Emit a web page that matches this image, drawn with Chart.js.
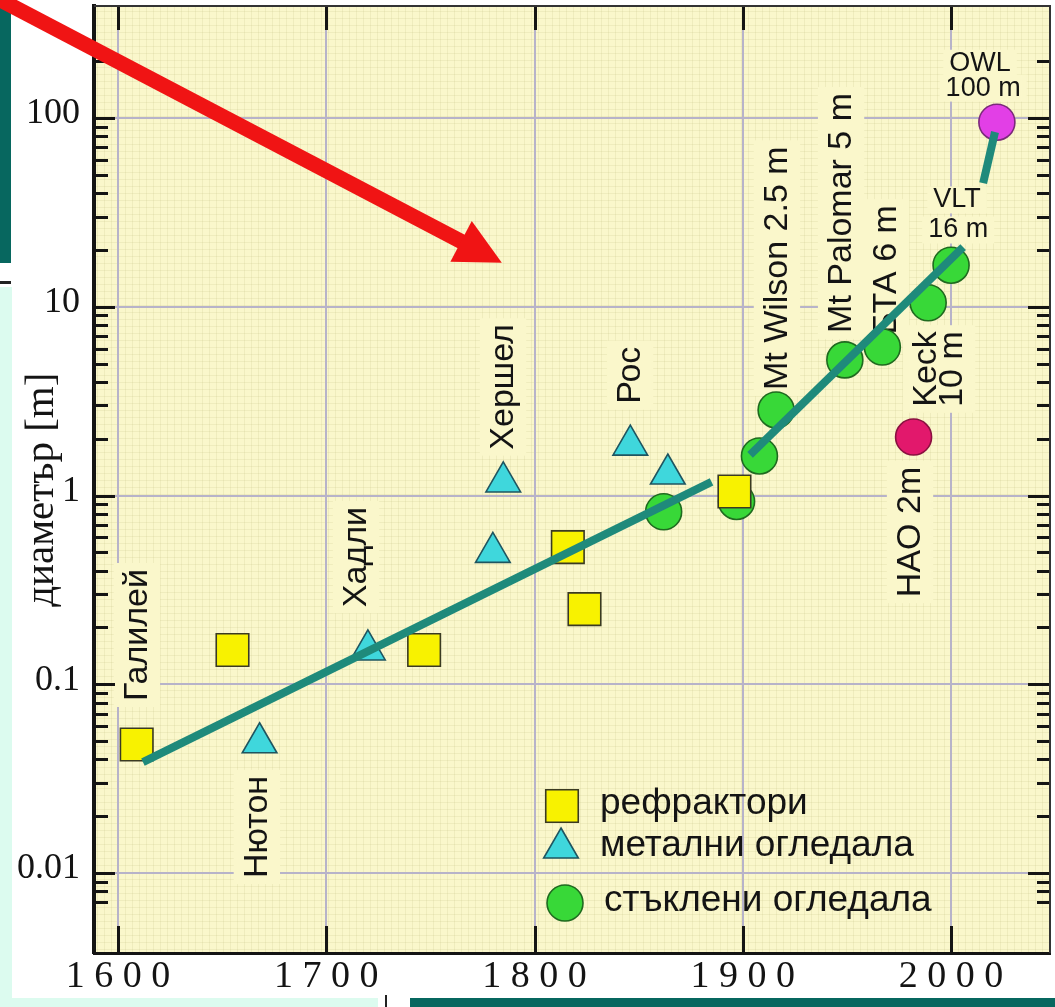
<!DOCTYPE html>
<html lang="bg">
<head>
<meta charset="utf-8">
<title>Диаметър на телескопите</title>
<script src="https://cdn.jsdelivr.net/npm/chart.js@4.4.1/dist/chart.umd.min.js"></script>
<style>
  html, body { margin: 0; padding: 0; background: #fff; }
  #wrap { position: relative; width: 1055px; height: 1007px; overflow: hidden; }
  .deco { position: absolute; }
  #telescope-chart { position: absolute; left: 0; top: 0; }
</style>
</head>
<body>
<div id="wrap">
  <div class="deco" style="left:0;top:0;width:11px;height:263px;background:#07675f"></div>
  <div class="deco" style="left:0;top:281px;width:11px;height:3px;background:#222"></div>
  <div class="deco" style="left:0;top:287px;width:12px;height:720px;background:#dcfbef"></div>
  <div class="deco" style="left:0;top:998px;width:378px;height:9px;background:#dcfbef"></div>
  <div class="deco" style="left:385px;top:995px;width:2px;height:12px;background:#222"></div>
  <div class="deco" style="left:410px;top:998px;width:645px;height:9px;background:#07675f"></div>
  <canvas id="telescope-chart" width="1055" height="1007"></canvas>
</div>
<script>
/* --- axis ranges and ticks --- */
const X_MIN = 1588.5, X_MAX = 2047.5;
const Y_MIN = 0.00377, Y_MAX = 392;
const xTicks = [1600, 1700, 1800, 1900, 2000];
const yTicks = [0.01, 0.1, 1, 10, 100];
const yTickLabels = ['0.01', '0.1', '1', '10', '100'];

/* --- data: year, diameter in metres --- */
const refractorYears = [1609, 1655, 1747, 1816, 1824, 1896];
const refractorDiam  = [0.048, 0.152, 0.152, 0.533, 0.25, 1.05];

const metalYears = [1668, 1720, 1780, 1785, 1846, 1864];
const metalDiam  = [0.049, 0.152, 0.50, 1.18, 1.85, 1.30];

const glassYears = [1862, 1897, 1908, 1916, 1949, 1967, 1989, 2000];
const glassDiam  = [0.82, 0.93, 1.62, 2.84, 5.23, 6.12, 10.5, 16.6];

const owlYears = [2022];
const owlDiam  = [95];
const haoYears = [1982];
const haoDiam  = [2.04];

// hand-drawn trend segments
const trendEarlyYears = [1612, 1885];
const trendEarlyDiam  = [0.0387, 1.18];
const trendGlassYears = [1903.5, 2005.8];
const trendGlassDiam  = [1.64, 20.7];
const trendFutureYears = [2015.4, 2021.1];
const trendFutureDiam  = [45.2, 84.3];

// names written next to the points (year / diameter of the text anchor)
const noteTexts = ['Галилей', 'Нютон', 'Хадли', 'Хершел', 'Рос', 'Mt Wilson 2.5 m', 'Mt Palomar 5 m',
                   'БТА 6 m', 'Keck', '10 m', 'HAO 2m', 'OWL', '100 m', 'VLT', '16 m'];
const noteYears = [1613.9, 1671.5, 1719.1, 1789.7, 1850.7, 1921.2, 1952, 1973.6, 1992.8, 2005.3, 1985.1,
                   2013.9, 2015.4, 2002.9, 2003.4];
const noteDiam  = [0.1824, 0.01754, 0.472, 3.76, 4.34, 16.0, 31.4, 15.7, 4.68, 4.68, 0.641,
                   195, 144, 36.8, 25.5];
const noteVertical = [true, true, true, true, true, true, true, true, true, true, true,
                      false, false, false, false];

// red arrow, from outside the plot to its tip
const arrowYears = [1541, 1784.3];
const arrowDiam  = [437, 17.1];

const PLOT_BG = '#faf7cb';
const GRID = '#b7b3c9';
const INK = '#141414';
const TEAL = '#1f8a7b';
const SANS = '"Liberation Sans", Arial, sans-serif';
const SERIF = '"Liberation Serif", "Times New Roman", serif';

const toPoints = (xs, ys) => xs.map((x, i) => ({ x, y: ys[i] }));

const trendLine = (xs, ys) => ({
    data: toPoints(xs, ys), showLine: true, pointRadius: 0, borderColor: TEAL,
    borderWidth: 8, borderCapStyle: 'butt', order: -1, legend: false
});

const marker = (label, xs, ys, style, radius, fill, stroke, inLegend) => ({
    label, data: toPoints(xs, ys), pointStyle: style, pointRadius: radius, pointHoverRadius: radius,
    backgroundColor: fill, borderColor: stroke, pointBorderWidth: 1.6, showLine: false, legend: inLegend
});

const plotBackground = {
    id: 'plotBackground',
    beforeDraw(chart) {
        const { ctx, chartArea: a } = chart;
        ctx.save();
        ctx.fillStyle = PLOT_BG;
        ctx.fillRect(a.left, a.top, a.width, a.height);
        // faint graph paper
        ctx.strokeStyle = 'rgba(185, 178, 120, 0.16)';
        ctx.lineWidth = 1;
        ctx.beginPath();
        for (let x = a.left + 3.5; x < a.right; x += 7) { ctx.moveTo(x, a.top); ctx.lineTo(x, a.bottom); }
        for (let y = a.bottom - 3.5; y > a.top; y -= 7) { ctx.moveTo(a.left, y); ctx.lineTo(a.right, y); }
        ctx.stroke();
        ctx.restore();
    }
};

function minorTickValues() {
    const vals = [];
    for (let e = -3; e <= 2; e++) {
        for (let k = 2; k <= 9; k++) {
            const v = k * Math.pow(10, e);
            if (v >= 0.007 && v <= 200) vals.push(v);
        }
    }
    return vals;
}

const notesAndTicks = {
    id: 'notesAndTicks',
    beforeDatasetsDraw(chart) {
        const { ctx, chartArea: a, scales: { x, y } } = chart;
        ctx.save();

        const notes = noteTexts.map((text, i) => {
            const size = noteVertical[i] ? 34 : 27;
            ctx.font = `${size}px ${SANS}`;
            return { text, size, vertical: noteVertical[i], w: ctx.measureText(text).width,
                     px: x.getPixelForValue(noteYears[i]), py: y.getPixelForValue(noteDiam[i]) };
        });

        // patches behind the names first, so no patch hides a neighbour
        ctx.fillStyle = PLOT_BG;
        notes.forEach(n => {
            ctx.save();
            ctx.translate(n.px, n.py);
            if (n.vertical) {
                ctx.rotate(-Math.PI / 2);
                ctx.fillRect(-n.w / 2 - 6, -n.size * 0.74 - 8, n.w + 12, n.size * 0.95 + 14);
            } else {
                ctx.fillRect(-n.w / 2 - 6, -n.size * 0.5, n.w + 12, n.size);
            }
            ctx.restore();
        });

        ctx.fillStyle = INK;
        notes.forEach(n => {
            ctx.save();
            ctx.font = `${n.size}px ${SANS}`;
            ctx.textAlign = 'center';
            ctx.translate(n.px, n.py);
            if (n.vertical) {
                ctx.rotate(-Math.PI / 2);
                ctx.textBaseline = 'alphabetic';
            } else {
                ctx.textBaseline = 'middle';
            }
            ctx.fillText(n.text, 0, 0);
            ctx.restore();
        });

        // tick marks point into the plot on all four sides
        ctx.strokeStyle = INK;
        ctx.lineWidth = 3;
        ctx.beginPath();
        const tick = (v, left, right) => {
            const py = Math.round(y.getPixelForValue(v)) + 0.5;
            ctx.moveTo(a.left, py); ctx.lineTo(a.left + left, py);
            ctx.moveTo(a.right, py); ctx.lineTo(a.right - right, py);
        };
        yTicks.forEach(v => tick(v, 21, 22));
        minorTickValues().forEach(v => tick(v, 14, 13));
        xTicks.forEach(v => {
            const px = Math.round(x.getPixelForValue(v)) + 0.5;
            ctx.moveTo(px, a.bottom); ctx.lineTo(px, a.bottom - 27);
            ctx.moveTo(px, a.top); ctx.lineTo(px, a.top + 24);
        });
        ctx.stroke();

        // thin frame on top and right
        ctx.strokeStyle = '#333';
        ctx.lineWidth = 2;
        ctx.beginPath();
        ctx.moveTo(a.left, a.top); ctx.lineTo(a.right, a.top); ctx.lineTo(a.right, a.bottom);
        ctx.stroke();
        ctx.restore();
    }
};

const cornerLegend = {
    id: 'cornerLegend',
    afterDatasetsDraw(chart) {
        const { ctx } = chart;
        const rows = [[562, 806, 600, 804], [561, 848, 600, 846], [565, 903, 604, 901]];
        const items = chart.data.datasets.filter(d => d.legend);
        ctx.save();
        items.forEach((ds, i) => {
            const [mx, my, tx, ty] = rows[i];
            ctx.fillStyle = ds.backgroundColor;
            ctx.strokeStyle = ds.borderColor;
            ctx.lineWidth = ds.pointBorderWidth;
            Chart.helpers.drawPoint(ctx, { pointStyle: ds.pointStyle, radius: ds.pointRadius,
                borderWidth: ds.pointBorderWidth, rotation: 0 }, mx, my);
            ctx.fillStyle = INK;
            ctx.font = `37px ${SANS}`;
            ctx.textAlign = 'left';
            ctx.textBaseline = 'middle';
            ctx.fillText(ds.label, tx, ty);
        });
        ctx.restore();
    }
};

const redArrow = {
    id: 'redArrow',
    afterDraw(chart) {
        const { ctx, scales: { x, y } } = chart;
        const x0 = x.getPixelForValue(arrowYears[0]), y0 = y.getPixelForValue(arrowDiam[0]);
        const x1 = x.getPixelForValue(arrowYears[1]), y1 = y.getPixelForValue(arrowDiam[1]);
        const len = Math.hypot(x1 - x0, y1 - y0);
        const dx = (x1 - x0) / len, dy = (y1 - y0) / len;
        const head = 46, half = 23;
        const bx = x1 - dx * head, by = y1 - dy * head;
        ctx.save();
        ctx.strokeStyle = '#f01414';
        ctx.fillStyle = '#f01414';
        ctx.lineWidth = 15;
        ctx.beginPath();
        ctx.moveTo(x0, y0);
        ctx.lineTo(bx + dx * 4, by + dy * 4);
        ctx.stroke();
        ctx.beginPath();
        ctx.moveTo(x1, y1);
        ctx.lineTo(bx - dy * half, by + dx * half);
        ctx.lineTo(bx + dy * half, by - dx * half);
        ctx.closePath();
        ctx.fill();
        ctx.restore();
    }
};

const spacedYear = v => String(v).split('').join(' ');

new Chart(document.getElementById('telescope-chart'), {
    type: 'scatter',
    data: {
        datasets: [
            trendLine(trendEarlyYears, trendEarlyDiam),
            trendLine(trendGlassYears, trendGlassDiam),
            trendLine(trendFutureYears, trendFutureDiam),
            marker('рефрактори', refractorYears, refractorDiam, 'rect', 23, '#f8f200', '#3a3a22', true),
            marker('метални огледала', metalYears, metalDiam, 'triangle', 20, '#3fd7dc', '#1f5560', true),
            marker('стъклени огледала', glassYears, glassDiam, 'circle', 18, '#38d838', '#1f6a1f', true),
            marker('OWL', owlYears, owlDiam, 'circle', 18, '#e23fe6', '#7a2a7a', false),
            marker('HAO', haoYears, haoDiam, 'circle', 18, '#e2186c', '#8a1040', false)
        ]
    },
    options: {
        responsive: false,
        animation: false,
        events: [],
        layout: { autoPadding: false, padding: { top: 6, right: 5, left: 0, bottom: 0 } },
        plugins: { legend: { display: false }, tooltip: { enabled: false } },
        scales: {
            x: {
                type: 'linear', position: 'bottom', min: X_MIN, max: X_MAX, bounds: 'data',
                afterBuildTicks: s => { s.ticks = xTicks.map(v => ({ value: v })); },
                afterFit: s => { s.height = 54; s.paddingLeft = 0; s.paddingRight = 0; },
                grid: { color: GRID, lineWidth: 2, drawTicks: false },
                border: { color: INK, width: 3 },
                ticks: { font: { family: SERIF, size: 38 }, color: INK, padding: 1,
                         maxRotation: 0, autoSkip: false, callback: v => spacedYear(v) }
            },
            y: {
                type: 'logarithmic', position: 'left', min: Y_MIN, max: Y_MAX, bounds: 'data',
                afterBuildTicks: s => { s.ticks = yTicks.map(v => ({ value: v })); },
                afterFit: s => { s.width = 94; s.paddingTop = 0; s.paddingBottom = 0; },
                grid: { color: GRID, lineWidth: 2, drawTicks: false },
                border: { color: INK, width: 4 },
                ticks: { font: { family: SERIF, size: 36 }, color: INK, padding: 14, labelOffset: -4,
                         autoSkip: false, callback: v => yTickLabels[yTicks.indexOf(v)] },
                // two trailing spaces push the rotated title a little lower, as in the original
                title: { display: true, text: 'диаметър [m]  ', color: INK,
                         font: { family: SERIF, size: 41 }, padding: { top: 18, bottom: 0 } }
            }
        }
    },
    plugins: [plotBackground, notesAndTicks, cornerLegend, redArrow]
});
</script>
</body>
</html>
